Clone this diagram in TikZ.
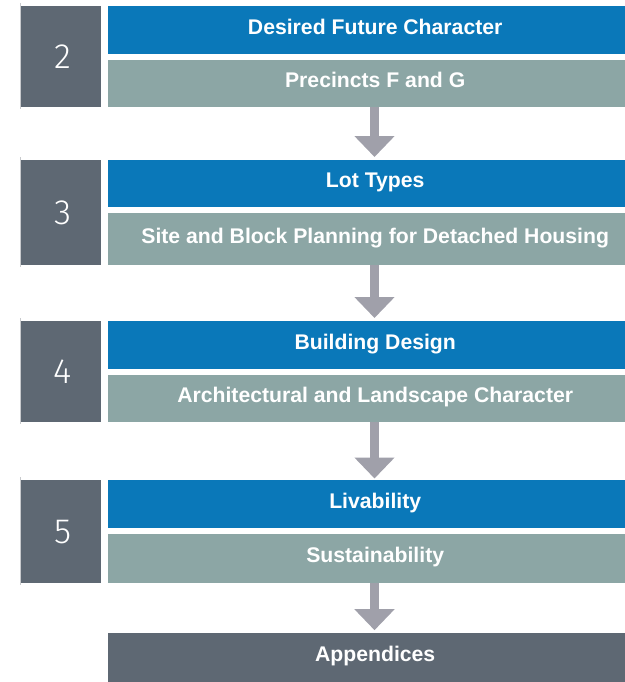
\documentclass[tikz,border=0pt]{standalone}
\usepackage{fontspec}
\setmainfont{Liberation Sans}
\IfFontExistsTF{Fira Sans Light}{\newfontfamily\numfont{Fira Sans Light}}{\newfontfamily\numfont{Liberation Sans}}
\usetikzlibrary{arrows.meta}
\definecolor{barblue}{HTML}{0A78B9}
\definecolor{bargreen}{HTML}{8CA6A5}
\definecolor{slate}{HTML}{5E6873}
\definecolor{arrowgrey}{HTML}{A0A0AA}
\definecolor{edgegrey}{HTML}{C8CACD}
\begin{document}
\begin{tikzpicture}[x=1pt,y=-1pt,
  numbox/.style={fill=slate, anchor=north west, minimum width=80.5pt, inner sep=0pt,
    text=white, font=\numfont\fontsize{35}{40}\selectfont},
  bar/.style={anchor=north west, minimum width=534pt, inner sep=0pt, text=white,
    font=\bfseries\fontsize{21.2}{25}\selectfont, text height=15.2pt, text depth=7.2pt},
  topbar/.style={bar, fill=barblue},
  subbar/.style={bar, fill=bargreen},
  endbar/.style={bar, fill=slate},
  flow/.style={draw=arrowgrey, line width=9.5pt, -{Triangle[width=39pt,length=21pt]}},
  edge/.style={draw=edgegrey, line width=0.8pt}
]
\useasboundingbox (0,0) rectangle (624,682);
\coordinate (ax) at (374.5,0);
% Section 2
\node[numbox, minimum height=101pt] (n2) at (20.7,6) {\hspace*{3pt}2};
\node[topbar, minimum height=48pt] (b2) at (108,6) {Desired Future Character};
\node[subbar, minimum height=47pt] (g2) at (108,60) {Precincts F and G};
% Section 3
\node[numbox, minimum height=105pt] (n3) at (20.7,160) {\hspace*{3pt}3};
\node[topbar, minimum height=47pt] (b3) at (108,160) {Lot Types};
\node[subbar, minimum height=52pt] (g3) at (108,213) {Site and Block Planning for Detached Housing};
% Section 4
\node[numbox, minimum height=101pt] (n4) at (20.7,321) {\hspace*{3pt}4};
\node[topbar, minimum height=48pt] (b4) at (108,321) {Building Design};
\node[subbar, minimum height=47pt] (g4) at (108,375) {Architectural and Landscape Character};
% Section 5
\node[numbox, minimum height=103pt] (n5) at (20.7,480) {\hspace*{3pt}5};
\node[topbar, minimum height=48pt] (b5) at (108,480) {Livability};
\node[subbar, minimum height=49pt] (g5) at (108,534) {Sustainability};
% Appendices
\node[endbar, minimum height=50pt] (ap) at (108,632.7) {Appendices};
% thin left edges
\foreach \n in {n2,n3,n4,n5}{
  \draw[edge] ([xshift=-0.4pt,yshift=3pt]\n.north west) -- ([xshift=-0.4pt,yshift=-2pt]\n.south west);
}
% arrows
\draw[flow] (g2.south -| ax) -- ([yshift=3pt]b3.north -| ax);
\draw[flow] (g3.south -| ax) -- ([yshift=3pt]b4.north -| ax);
\draw[flow] (g4.south -| ax) -- ([yshift=1.5pt]b5.north -| ax);
\draw[flow] (g5.south -| ax) -- ([yshift=2.5pt]ap.north -| ax);
\end{tikzpicture}
\end{document}
